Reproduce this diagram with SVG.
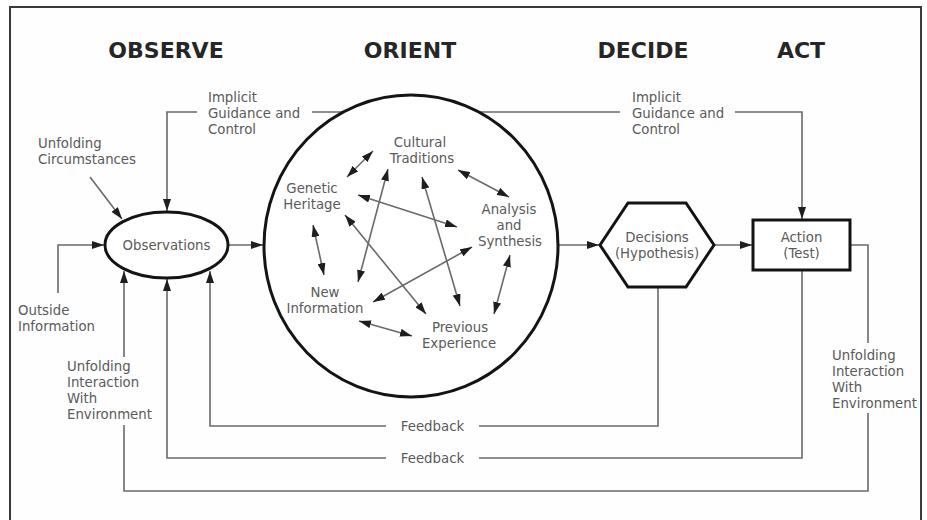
<svg xmlns="http://www.w3.org/2000/svg" width="927" height="520" viewBox="0 0 927 520">
  <defs>
    <marker id="ah" viewBox="0 0 12 8" refX="12" refY="4" markerWidth="12" markerHeight="8" markerUnits="userSpaceOnUse" orient="auto-start-reverse">
      <path d="M0,0 L12,4 L0,8 z" fill="#1e1e1e"/>
    </marker>
    <style>
      .head { font-family: "DejaVu Sans", Verdana, sans-serif; font-weight: bold; font-size: 22px; fill: #262626; text-anchor: middle; }
      .lbl { font-family: "DejaVu Sans", Verdana, sans-serif; font-size: 13.3px; fill: #5a5a5a; }
      .mid { text-anchor: middle; }
      .conn { fill: none; stroke: #6a6a6a; stroke-width: 1.6; }
      .arr { marker-end: url(#ah); }
      .dbl { marker-start: url(#ah); marker-end: url(#ah); }
      .shape { fill: #ffffff; stroke: #141414; stroke-width: 3; }
    </style>
  </defs>

  <rect x="0" y="0" width="927" height="520" fill="#ffffff"/>
  <rect x="10" y="7" width="911" height="530" fill="#fefefe" stroke="#3a3a3a" stroke-width="2"/>

  <!-- phase headings -->
  <g id="headings">
    <text class="head" x="166" y="58">OBSERVE</text>
    <text class="head" x="410" y="58">ORIENT</text>
    <text class="head" x="643" y="58">DECIDE</text>
    <text class="head" x="801" y="58">ACT</text>
  </g>

  <!-- connectors -->
  <g id="connectors">
    <!-- implicit guidance and control, running behind the orient circle -->
    <path class="conn arr" d="M197,112 H167 V211"/>
    <path class="conn" d="M312,112 H620"/>
    <path class="conn arr" d="M735,112 H802 V219"/>
    <!-- unfolding circumstances -->
    <path class="conn arr" d="M90,177 L122,219"/>
    <!-- outside information -->
    <path class="conn arr" d="M58,293 V245 H104"/>
    <!-- main flow -->
    <path class="conn arr" d="M229,245 H263"/>
    <path class="conn arr" d="M559,245 H599"/>
    <path class="conn arr" d="M715,245 H752"/>
    <!-- feedback loops -->
    <path class="conn" d="M658,288 V426 H479"/>
    <path class="conn arr" d="M386,426 H210 V271"/>
    <path class="conn" d="M802,271 V458 H479"/>
    <path class="conn arr" d="M386,458 H167 V279"/>
    <!-- unfolding interaction with environment -->
    <path class="conn" d="M851,245 H868 V343"/>
    <path class="conn" d="M868,413 V491 H124 V425"/>
    <path class="conn arr" d="M124,357 V271"/>
  </g>

  <!-- OBSERVE -->
  <g id="observations">
    <ellipse class="shape" cx="166.5" cy="245" rx="61.5" ry="33"/>
    <text class="lbl mid" x="166.5" y="250">Observations</text>
  </g>
  <g id="implicit-guidance-observe">
    <text class="lbl" x="208" y="102">Implicit</text>
    <text class="lbl" x="208" y="118">Guidance and</text>
    <text class="lbl" x="208" y="134">Control</text>
  </g>
  <g id="unfolding-circumstances">
    <text class="lbl" x="38" y="148">Unfolding</text>
    <text class="lbl" x="38" y="164">Circumstances</text>
  </g>
  <g id="outside-information">
    <text class="lbl" x="18" y="315">Outside</text>
    <text class="lbl" x="18" y="331">Information</text>
  </g>
  <g id="interaction-observe">
    <text class="lbl" x="67" y="371">Unfolding</text>
    <text class="lbl" x="67" y="387">Interaction</text>
    <text class="lbl" x="67" y="403">With</text>
    <text class="lbl" x="67" y="419">Environment</text>
  </g>

  <!-- ORIENT -->
  <g id="orient">
    <ellipse class="shape" cx="411" cy="246" rx="147" ry="151"/>
    <g id="orient-links">
      <line class="conn dbl" x1="347" y1="177" x2="373" y2="151"/>
      <line class="conn dbl" x1="388" y1="169" x2="358" y2="282"/>
      <line class="conn dbl" x1="358" y1="195" x2="457" y2="227"/>
      <line class="conn dbl" x1="422" y1="177" x2="460" y2="306"/>
      <line class="conn dbl" x1="458" y1="170" x2="509" y2="197"/>
      <line class="conn dbl" x1="313" y1="225" x2="324" y2="275"/>
      <line class="conn dbl" x1="345" y1="215" x2="426" y2="314"/>
      <line class="conn dbl" x1="472" y1="247" x2="373" y2="302"/>
      <line class="conn dbl" x1="510" y1="255" x2="494" y2="314"/>
      <line class="conn dbl" x1="359" y1="321" x2="412" y2="336"/>
    </g>
    <g id="cultural-traditions">
      <text class="lbl mid" x="420" y="147">Cultural</text>
      <text class="lbl mid" x="422" y="163">Traditions</text>
    </g>
    <g id="genetic-heritage">
      <text class="lbl mid" x="312" y="193">Genetic</text>
      <text class="lbl mid" x="312" y="209">Heritage</text>
    </g>
    <g id="analysis-synthesis">
      <text class="lbl mid" x="509" y="214">Analysis</text>
      <text class="lbl mid" x="509" y="230">and</text>
      <text class="lbl mid" x="510" y="246">Synthesis</text>
    </g>
    <g id="new-information">
      <text class="lbl mid" x="325" y="297">New</text>
      <text class="lbl mid" x="325" y="313">Information</text>
    </g>
    <g id="previous-experience">
      <text class="lbl mid" x="460" y="332">Previous</text>
      <text class="lbl mid" x="459" y="348">Experience</text>
    </g>
  </g>

  <!-- DECIDE -->
  <g id="decisions">
    <polygon class="shape" points="600,245 628,203 686,203 714,245 686,287 628,287"/>
    <text class="lbl mid" x="657" y="242">Decisions</text>
    <text class="lbl mid" x="657" y="258">(Hypothesis)</text>
  </g>
  <g id="implicit-guidance-act">
    <text class="lbl" x="632" y="102">Implicit</text>
    <text class="lbl" x="632" y="118">Guidance and</text>
    <text class="lbl" x="632" y="134">Control</text>
  </g>

  <!-- ACT -->
  <g id="action">
    <rect class="shape" x="753" y="220" width="97" height="50"/>
    <text class="lbl mid" x="801.5" y="242">Action</text>
    <text class="lbl mid" x="801.5" y="258">(Test)</text>
  </g>
  <g id="interaction-act">
    <text class="lbl" x="832" y="360">Unfolding</text>
    <text class="lbl" x="832" y="376">Interaction</text>
    <text class="lbl" x="832" y="392">With</text>
    <text class="lbl" x="832" y="408">Environment</text>
  </g>

  <g id="feedback-labels">
    <text class="lbl mid" x="432.5" y="431">Feedback</text>
    <text class="lbl mid" x="432.5" y="463">Feedback</text>
  </g>
</svg>
